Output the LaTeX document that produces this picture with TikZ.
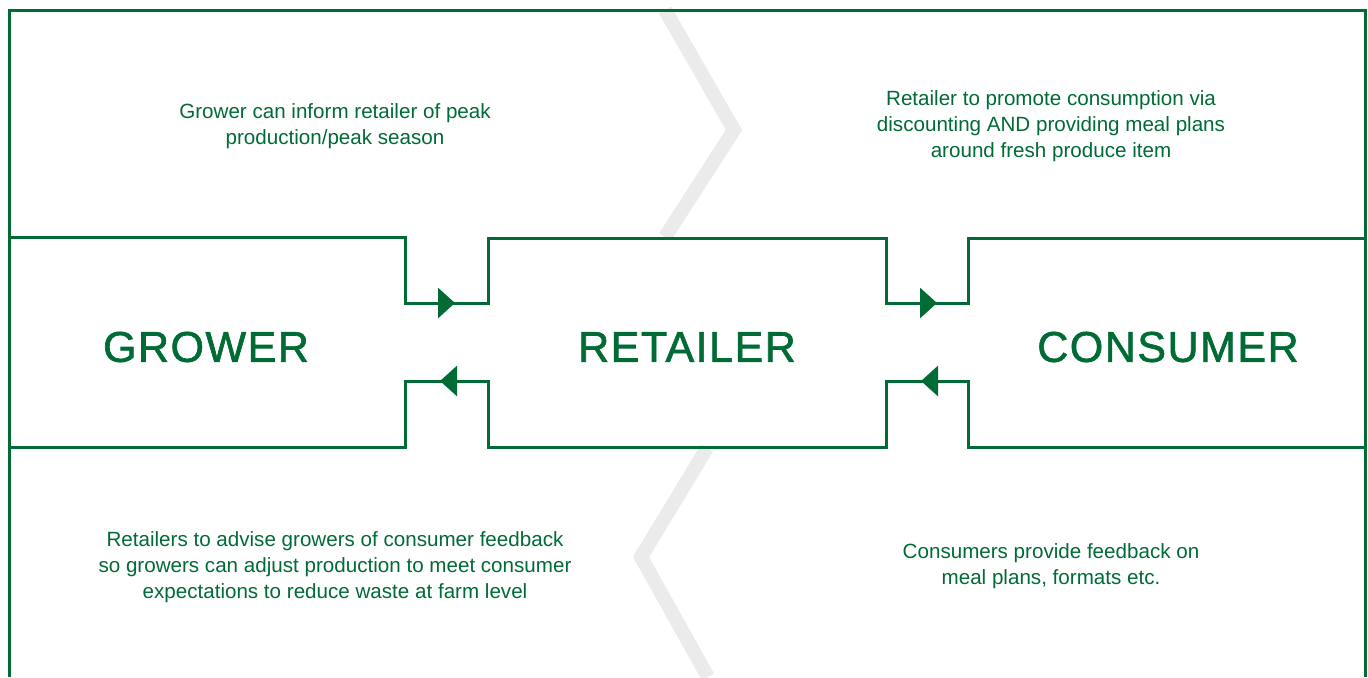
\documentclass[tikz,border=0pt]{standalone}
\usepackage{fontspec}
\setmainfont{Liberation Sans}
\newfontfamily\headfont[LetterSpace=3.5, FakeBold=1.5]{Liberation Sans}
\usetikzlibrary{arrows.meta}

\definecolor{leaf}{HTML}{006B35}
\definecolor{chevron}{HTML}{EBEBEB}

\begin{document}
\begin{tikzpicture}[x=0.5pt, y=-0.5pt,
    band/.style = {draw=leaf, line width=1.5pt},
    flow/.style = {band, -{Triangle[length=8.5pt, width=15pt]}},
    main/.style = {text=leaf, inner sep=0pt, font=\headfont\fontsize{21.5}{26}\selectfont},
    note/.style = {text=leaf, align=center, inner sep=0pt, font=\fontsize{10.3}{13}\selectfont}]
    \useasboundingbox (0,0) rectangle (1368,677);

    % grey chevrons behind the boxes
    \draw[chevron, line width=7pt] (665,10) -- (734,130) -- (665,237);
    \draw[chevron, line width=7pt] (707,448) -- (641,557) -- (708,677);

    % outer frame
    \draw[band] (9,677) -- (9,10) -- (1365,10) -- (1365,677);

    % notch corners
    \coordinate (gTop) at (405,303);
    \coordinate (rTop) at (488,303);
    \coordinate (rTop2) at (886,303);
    \coordinate (cTop) at (968,303);
    \coordinate (gBot) at (405,381);
    \coordinate (rBot) at (488,381);
    \coordinate (rBot2) at (886,381);
    \coordinate (cBot) at (968,381);

    % upper and lower edges of the middle band
    \draw[band] (9,237) -- (405,237) -- (gTop) -- (rTop) -- (488,238) -- (886,238)
        -- (rTop2) -- (cTop) -- (968,238) -- (1365,238);
    \draw[band] (9,447) -- (405,447) -- (gBot) -- (rBot) -- (488,447) -- (886,447)
        -- (rBot2) -- (cBot) -- (968,447) -- (1365,447);

    % arrows
    \draw[flow] (gTop) -- (455,303);
    \draw[flow] (rTop2) -- (937,303);
    \draw[flow] (rBot) -- (440,381);
    \draw[flow] (cBot) -- (921,381);

    \node[main] (grower) at (206,347) {GROWER};
    \node[main] (retailer) at (687,347) {RETAILER};
    \node[main] (consumer) at (1168,347) {CONSUMER};

    \node[note] (peak) at (335,126) {Grower can inform retailer of peak\\production/peak season};
    \node[note] (promote) at (1051,126) {Retailer to promote consumption via\\discounting AND providing meal plans\\around fresh produce item};
    \node[note] (advise) at (335,567) {Retailers to advise growers of consumer feedback\\so growers can adjust production to meet consumer\\expectations to reduce waste at farm level};
    \node[note] (feedback) at (1051,566) {Consumers provide feedback on\\meal plans, formats etc.};
\end{tikzpicture}
\end{document}
